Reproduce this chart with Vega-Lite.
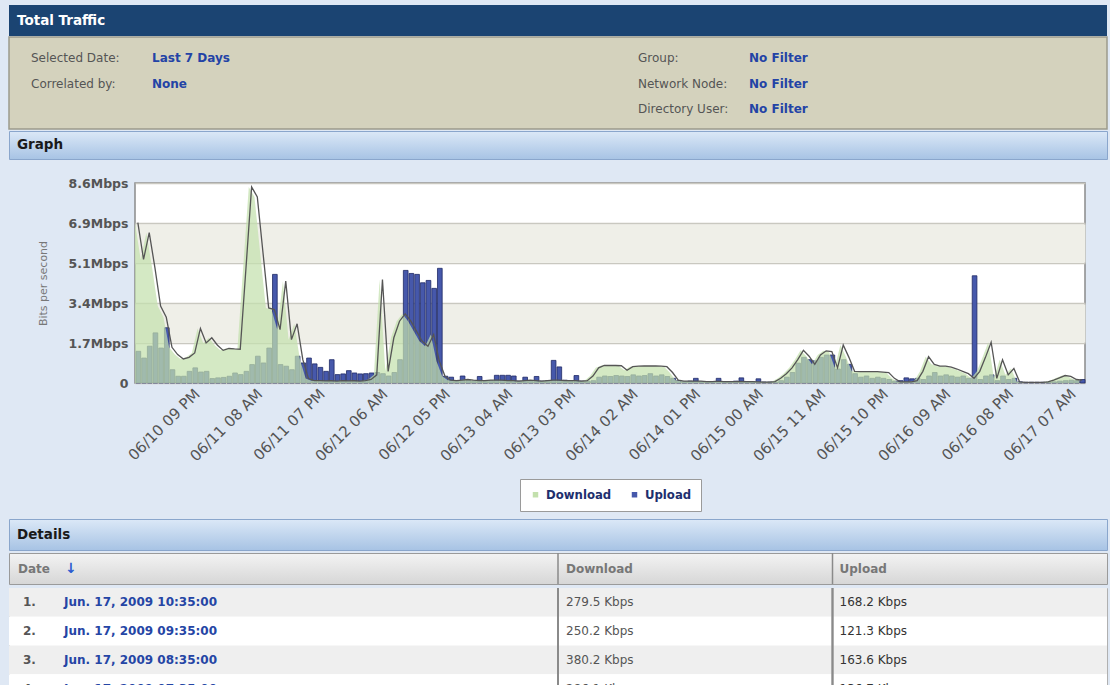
{
  "$schema": "https://vega.github.io/schema/vega-lite/v6.json",
  "background": "#dfe8f4",
  "padding": {"left": 8, "top": 5, "right": 4, "bottom": 0},
  "spacing": 0,
  "resolve": {"scale": {"color": "independent"}, "legend": {"color": "independent"}},
  "config": {"font": "DejaVu Sans", "view": {"stroke": null}, "legend": {"layout": {"bottom": {"anchor": "middle"}}}},
  "datasets": {
    "traffic": [
      {"t":"2009-06-10T11:00","down":6.88,"up":1.36},{"t":"2009-06-10T12:00","down":5.30,"up":1.07},{"t":"2009-06-10T13:00","down":6.45,"up":1.58},{"t":"2009-06-10T14:00","down":4.95,"up":2.15},{"t":"2009-06-10T15:00","down":3.30,"up":1.50},{"t":"2009-06-10T16:00","down":2.82,"up":2.37},{"t":"2009-06-10T17:00","down":1.53,"up":0.57},{"t":"2009-06-10T18:00","down":1.22,"up":0.29},{"t":"2009-06-10T19:00","down":1.03,"up":0.29},{"t":"2009-06-10T20:00","down":1.10,"up":0.50},{"t":"2009-06-10T21:00","down":1.29,"up":0.65},{"t":"2009-06-10T22:00","down":2.34,"up":0.47},{"t":"2009-06-10T23:00","down":1.72,"up":0.50},
      {"t":"2009-06-11T00:00","down":1.94,"up":0.19},{"t":"2009-06-11T01:00","down":1.62,"up":0.22},{"t":"2009-06-11T02:00","down":1.40,"up":0.24},{"t":"2009-06-11T03:00","down":1.48,"up":0.29},{"t":"2009-06-11T04:00","down":1.46,"up":0.43},{"t":"2009-06-11T05:00","down":1.45,"up":0.36},{"t":"2009-06-11T06:00","down":4.90,"up":0.50},{"t":"2009-06-11T07:00","down":8.41,"up":0.79},{"t":"2009-06-11T08:00","down":7.98,"up":1.15},{"t":"2009-06-11T09:00","down":5.59,"up":0.86},{"t":"2009-06-11T10:00","down":3.22,"up":1.50},{"t":"2009-06-11T11:00","down":3.15,"up":4.66},{"t":"2009-06-11T12:00","down":2.29,"up":0.79},{"t":"2009-06-11T13:00","down":4.37,"up":0.72},{"t":"2009-06-11T14:00","down":1.86,"up":0.57},{"t":"2009-06-11T15:00","down":2.54,"up":1.15},{"t":"2009-06-11T16:00","down":1.00,"up":0.86},{"t":"2009-06-11T17:00","down":0.19,"up":1.07},{"t":"2009-06-11T18:00","down":0.10,"up":0.82},{"t":"2009-06-11T19:00","down":0.10,"up":0.67},{"t":"2009-06-11T20:00","down":0.09,"up":0.50},{"t":"2009-06-11T21:00","down":0.10,"up":1.00},{"t":"2009-06-11T22:00","down":0.08,"up":0.36},{"t":"2009-06-11T23:00","down":0.10,"up":0.39},
      {"t":"2009-06-12T00:00","down":0.09,"up":0.53},{"t":"2009-06-12T01:00","down":0.10,"up":0.43},{"t":"2009-06-12T02:00","down":0.08,"up":0.39},{"t":"2009-06-12T03:00","down":0.10,"up":0.40},{"t":"2009-06-12T04:00","down":0.15,"up":0.43},{"t":"2009-06-12T05:00","down":0.35,"up":0.45},{"t":"2009-06-12T06:00","down":4.44,"up":0.40},{"t":"2009-06-12T07:00","down":0.50,"up":0.30},{"t":"2009-06-12T08:00","down":1.94,"up":0.45},{"t":"2009-06-12T09:00","down":2.65,"up":1.00},{"t":"2009-06-12T10:00","down":2.97,"up":4.83},{"t":"2009-06-12T11:00","down":2.65,"up":4.70},{"t":"2009-06-12T12:00","down":2.22,"up":4.66},{"t":"2009-06-12T13:00","down":1.79,"up":4.30},{"t":"2009-06-12T14:00","down":1.58,"up":4.40},{"t":"2009-06-12T15:00","down":2.08,"up":4.06},{"t":"2009-06-12T16:00","down":0.93,"up":4.92},{"t":"2009-06-12T17:00","down":0.29,"up":0.29},{"t":"2009-06-12T18:00","down":0.12,"up":0.25},{"t":"2009-06-12T19:00","down":0.10,"up":0.08},{"t":"2009-06-12T20:00","down":0.12,"up":0.30},{"t":"2009-06-12T21:00","down":0.15,"up":0.10},{"t":"2009-06-12T22:00","down":0.12,"up":0.08},{"t":"2009-06-12T23:00","down":0.10,"up":0.28},
      {"t":"2009-06-13T00:00","down":0.10,"up":0.08},{"t":"2009-06-13T01:00","down":0.12,"up":0.10},{"t":"2009-06-13T02:00","down":0.12,"up":0.33},{"t":"2009-06-13T03:00","down":0.12,"up":0.33},{"t":"2009-06-13T04:00","down":0.10,"up":0.33},{"t":"2009-06-13T05:00","down":0.10,"up":0.30},{"t":"2009-06-13T06:00","down":0.08,"up":0.08},{"t":"2009-06-13T07:00","down":0.10,"up":0.25},{"t":"2009-06-13T08:00","down":0.12,"up":0.08},{"t":"2009-06-13T09:00","down":0.10,"up":0.28},{"t":"2009-06-13T10:00","down":0.08,"up":0.08},{"t":"2009-06-13T11:00","down":0.10,"up":0.10},{"t":"2009-06-13T12:00","down":0.12,"up":0.97},{"t":"2009-06-13T13:00","down":0.12,"up":0.69},{"t":"2009-06-13T14:00","down":0.10,"up":0.12},{"t":"2009-06-13T15:00","down":0.10,"up":0.08},{"t":"2009-06-13T16:00","down":0.10,"up":0.32},{"t":"2009-06-13T17:00","down":0.08,"up":0.08},{"t":"2009-06-13T18:00","down":0.10,"up":0.08},{"t":"2009-06-13T19:00","down":0.30,"up":0.10},{"t":"2009-06-13T20:00","down":0.65,"up":0.25},{"t":"2009-06-13T21:00","down":0.75,"up":0.30},{"t":"2009-06-13T22:00","down":0.76,"up":0.28},{"t":"2009-06-13T23:00","down":0.75,"up":0.32},
      {"t":"2009-06-14T00:00","down":0.74,"up":0.30},{"t":"2009-06-14T01:00","down":0.55,"up":0.28},{"t":"2009-06-14T02:00","down":0.70,"up":0.35},{"t":"2009-06-14T03:00","down":0.72,"up":0.30},{"t":"2009-06-14T04:00","down":0.73,"up":0.32},{"t":"2009-06-14T05:00","down":0.73,"up":0.40},{"t":"2009-06-14T06:00","down":0.73,"up":0.30},{"t":"2009-06-14T07:00","down":0.72,"up":0.35},{"t":"2009-06-14T08:00","down":0.70,"up":0.28},{"t":"2009-06-14T09:00","down":0.45,"up":0.20},{"t":"2009-06-14T10:00","down":0.12,"up":0.10},{"t":"2009-06-14T11:00","down":0.08,"up":0.05},{"t":"2009-06-14T12:00","down":0.08,"up":0.08},{"t":"2009-06-14T13:00","down":0.08,"up":0.20},{"t":"2009-06-14T14:00","down":0.08,"up":0.05},{"t":"2009-06-14T15:00","down":0.06,"up":0.05},{"t":"2009-06-14T16:00","down":0.06,"up":0.06},{"t":"2009-06-14T17:00","down":0.08,"up":0.20},{"t":"2009-06-14T18:00","down":0.06,"up":0.05},{"t":"2009-06-14T19:00","down":0.06,"up":0.05},{"t":"2009-06-14T20:00","down":0.06,"up":0.08},{"t":"2009-06-14T21:00","down":0.07,"up":0.22},{"t":"2009-06-14T22:00","down":0.06,"up":0.05},{"t":"2009-06-14T23:00","down":0.06,"up":0.05},
      {"t":"2009-06-15T00:00","down":0.05,"up":0.18},{"t":"2009-06-15T01:00","down":0.04,"up":0.04},{"t":"2009-06-15T02:00","down":0.04,"up":0.04},{"t":"2009-06-15T03:00","down":0.06,"up":0.04},{"t":"2009-06-15T04:00","down":0.20,"up":0.10},{"t":"2009-06-15T05:00","down":0.40,"up":0.25},{"t":"2009-06-15T06:00","down":0.65,"up":0.45},{"t":"2009-06-15T07:00","down":1.00,"up":0.85},{"t":"2009-06-15T08:00","down":1.40,"up":1.10},{"t":"2009-06-15T09:00","down":1.15,"up":1.00},{"t":"2009-06-15T10:00","down":0.80,"up":0.95},{"t":"2009-06-15T11:00","down":1.20,"up":1.10},{"t":"2009-06-15T12:00","down":1.38,"up":1.20},{"t":"2009-06-15T13:00","down":1.35,"up":1.20},{"t":"2009-06-15T14:00","down":0.65,"up":0.60},{"t":"2009-06-15T15:00","down":1.63,"up":1.00},{"t":"2009-06-15T16:00","down":1.10,"up":0.80},{"t":"2009-06-15T17:00","down":0.50,"up":0.40},{"t":"2009-06-15T18:00","down":0.49,"up":0.25},{"t":"2009-06-15T19:00","down":0.49,"up":0.30},{"t":"2009-06-15T20:00","down":0.49,"up":0.20},{"t":"2009-06-15T21:00","down":0.49,"up":0.25},{"t":"2009-06-15T22:00","down":0.47,"up":0.20},{"t":"2009-06-15T23:00","down":0.45,"up":0.15},
      {"t":"2009-06-16T00:00","down":0.20,"up":0.08},{"t":"2009-06-16T01:00","down":0.05,"up":0.10},{"t":"2009-06-16T02:00","down":0.05,"up":0.22},{"t":"2009-06-16T03:00","down":0.05,"up":0.18},{"t":"2009-06-16T04:00","down":0.10,"up":0.20},{"t":"2009-06-16T05:00","down":0.50,"up":0.15},{"t":"2009-06-16T06:00","down":1.13,"up":0.30},{"t":"2009-06-16T07:00","down":0.80,"up":0.45},{"t":"2009-06-16T08:00","down":0.72,"up":0.30},{"t":"2009-06-16T09:00","down":0.72,"up":0.35},{"t":"2009-06-16T10:00","down":0.68,"up":0.30},{"t":"2009-06-16T11:00","down":0.60,"up":0.25},{"t":"2009-06-16T12:00","down":0.50,"up":0.30},{"t":"2009-06-16T13:00","down":0.40,"up":0.20},{"t":"2009-06-16T14:00","down":0.20,"up":4.60},{"t":"2009-06-16T15:00","down":0.50,"up":0.15},{"t":"2009-06-16T16:00","down":1.10,"up":0.30},{"t":"2009-06-16T17:00","down":1.75,"up":0.35},{"t":"2009-06-16T18:00","down":0.20,"up":0.10},{"t":"2009-06-16T19:00","down":1.00,"up":0.30},{"t":"2009-06-16T20:00","down":0.35,"up":0.15},{"t":"2009-06-16T21:00","down":0.62,"up":0.20},{"t":"2009-06-16T22:00","down":0.05,"up":0.05},{"t":"2009-06-16T23:00","down":0.03,"up":0.03},
      {"t":"2009-06-17T00:00","down":0.03,"up":0.03},{"t":"2009-06-17T01:00","down":0.03,"up":0.03},{"t":"2009-06-17T02:00","down":0.03,"up":0.03},{"t":"2009-06-17T03:00","down":0.05,"up":0.04},{"t":"2009-06-17T04:00","down":0.12,"up":0.05},{"t":"2009-06-17T05:00","down":0.22,"up":0.08},{"t":"2009-06-17T06:00","down":0.32,"up":0.10},{"t":"2009-06-17T07:00","down":0.28,"up":0.12},{"t":"2009-06-17T08:00","down":0.15,"up":0.10},{"t":"2009-06-17T09:00","down":0.12,"up":0.15}
    ],
    "filters": [
      {"col":"a","row":0,"key":"Selected Date:","val":"Last 7 Days"},
      {"col":"a","row":1,"key":"Correlated by:","val":"None"},
      {"col":"b","row":0,"key":"Group:","val":"No Filter"},
      {"col":"b","row":1,"key":"Network Node:","val":"No Filter"},
      {"col":"b","row":2,"key":"Directory User:","val":"No Filter"}
    ],
    "rows": [
      {"n":1,"num":"1.","date":"Jun. 17, 2009 10:35:00","down":"279.5 Kbps","up":"168.2 Kbps"},
      {"n":2,"num":"2.","date":"Jun. 17, 2009 09:35:00","down":"250.2 Kbps","up":"121.3 Kbps"},
      {"n":3,"num":"3.","date":"Jun. 17, 2009 08:35:00","down":"380.2 Kbps","up":"163.6 Kbps"},
      {"n":4,"num":"4.","date":"Jun. 17, 2009 07:35:00","down":"286.1 Kbps","up":"136.7 Kbps"}
    ],
    "headers": [{"label":"Total Traffic"}],
    "graphHeader": [{"label":"Graph"}],
    "detailsHeader": [{"label":"Details"}],
    "one": [{"id":1}]
  },
  "vconcat": [
    {
      "width": 1098, "height": 31,
      "view": {"fill": "#1b4472", "stroke": null},
      "data": {"name": "headers"},
      "mark": {"type": "text", "align": "left", "color": "#ffffff", "fontSize": 13.5, "fontWeight": "bold"},
      "encoding": {
        "x": {"field": "label", "type": "nominal", "axis": null, "scale": {"type": "point", "range": [8, 8], "padding": 0}},
        "text": {"field": "label"}
      }
    },
    {
      "width": 1098, "height": 92,
      "view": {"fill": "#d4d2bd", "stroke": "#9c9b8c", "strokeWidth": 1.5},
      "data": {"name": "filters"},
      "layer": [
        {
          "mark": {"type": "text", "align": "left", "color": "#555555", "fontSize": 12},
          "encoding": {
            "x": {"field": "col", "type": "nominal", "axis": null, "scale": {"type": "point", "range": [22, 629], "padding": 0}},
            "y": {"field": "row", "type": "ordinal", "axis": null, "scale": {"type": "point", "range": [21, 72], "padding": 0}},
            "text": {"field": "key"}
          }
        },
        {
          "mark": {"type": "text", "align": "left", "color": "#2343a6", "fontSize": 12, "fontWeight": "bold"},
          "encoding": {
            "x": {"field": "col", "type": "nominal", "axis": null, "scale": {"type": "point", "range": [143, 740], "padding": 0}},
            "y": {"field": "row", "type": "ordinal", "axis": null},
            "text": {"field": "val"}
          }
        }
      ],
      "resolve": {"scale": {"x": "independent"}}
    },
    {
      "width": 1098, "height": 28,
      "view": {"fill": {"gradient": "linear", "x1": 0, "y1": 0, "x2": 0, "y2": 1, "stops": [{"offset": 0, "color": "#dbe8f7"}, {"offset": 1, "color": "#a7c3e4"}]}, "stroke": "#8aa6cc"},
      "data": {"name": "graphHeader"},
      "mark": {"type": "text", "align": "left", "color": "#1a1a1a", "fontSize": 13.5, "fontWeight": "bold"},
      "encoding": {
        "x": {"field": "label", "type": "nominal", "scale": {"type": "point", "range": [8, 8], "padding": 0},
              "axis": {"labels": false, "ticks": false, "domain": false, "grid": false, "title": " ", "titleFontSize": 10, "titlePadding": 6}},
        "text": {"field": "label"}
      }
    },
    {
      "spacing": 0,
      "resolve": {"scale": {"color": "independent"}, "legend": {"color": "independent"}},
      "hconcat": [
        {
          "width": 27, "height": 200,
          "view": {"fill": null, "stroke": null},
          "data": {"values": []},
          "mark": {"type": "point"}
        },
        {
          "width": 950, "height": 200,
          "view": {"fill": "#ffffff", "stroke": "#8a8a8a", "strokeWidth": 1.5},
          "data": {"name": "traffic"},
          "encoding": {
            "x": {
              "field": "t", "timeUnit": "yearmonthdatehours", "type": "temporal", "title": null,
              "axis": {
                "values": [
                  {"year":2009,"month":6,"date":10,"hours":21},{"year":2009,"month":6,"date":11,"hours":8},{"year":2009,"month":6,"date":11,"hours":19},
                  {"year":2009,"month":6,"date":12,"hours":6},{"year":2009,"month":6,"date":12,"hours":17},{"year":2009,"month":6,"date":13,"hours":4},
                  {"year":2009,"month":6,"date":13,"hours":15},{"year":2009,"month":6,"date":14,"hours":2},{"year":2009,"month":6,"date":14,"hours":13},
                  {"year":2009,"month":6,"date":15,"hours":0},{"year":2009,"month":6,"date":15,"hours":11},{"year":2009,"month":6,"date":15,"hours":22},
                  {"year":2009,"month":6,"date":16,"hours":9},{"year":2009,"month":6,"date":16,"hours":20},{"year":2009,"month":6,"date":17,"hours":7}
                ],
                "tickCount": 20,
                "labelExpr": "timeFormat(datum.value, '%m/%d ') + (hours(datum.value) == 0 ? '00' : timeFormat(datum.value, '%I')) + timeFormat(datum.value, ' %p')",
                "labelAngle": -45, "labelFontSize": 15, "labelColor": "#555555", "labelPadding": 3,
                "ticks": false, "domain": false, "grid": false, "labelFlush": false, "labelOverlap": false
              }
            }
          },
          "layer": [
            {
              "mark": {"type": "bar", "timeUnitBandSize": 0.7, "stroke": "#1f2a66", "strokeWidth": 0.8},
              "encoding": {
                "y": {
                  "field": "up", "type": "quantitative", "title": "Bits per second",
                  "scale": {"domain": [0, 8.58], "nice": false},
                  "axis": {
                    "titleColor": "#777777", "titleFontSize": 11, "titleFontWeight": "normal", "titlePadding": 20,
                    "values": [0, 1.716, 2.574, 3.432, 5.148, 6.006, 6.864, 8.58],
                    "tickCount": 20,
                    "labelExpr": "datum.value == 0 ? '0' : (abs(datum.value - 2.574) < 0.01 || abs(datum.value - 6.006) < 0.01) ? '' : format(datum.value, '.1f') + 'Mbps'",
                    "labelFontSize": 12.5, "labelFontWeight": "bold", "labelColor": "#555555", "labelPadding": 7, "labelOverlap": false,
                    "ticks": false, "domain": false, "grid": true,
                    "gridColor": {"condition": {"test": "abs(datum.value - 2.574) < 0.01 || abs(datum.value - 6.006) < 0.01", "value": "#efefe8"}, "value": "#c9c8c0"},
                    "gridWidth": {"condition": {"test": "abs(datum.value - 2.574) < 0.01 || abs(datum.value - 6.006) < 0.01", "value": 38.5}, "value": 1.5}
                  }
                },
                "color": {
                  "datum": "Upload", "type": "nominal",
                  "scale": {"domain": ["Download", "Upload"], "range": ["#c3e0ad", "#4658ab"]},
                  "legend": {
                    "orient": "bottom", "direction": "horizontal", "title": null, "fillColor": "#ffffff", "strokeColor": "#9a9a9a",
                    "padding": 9, "offset": 15, "symbolType": "square", "symbolSize": 30, "symbolOpacity": 1, "symbolStrokeWidth": 0,
                    "labelFont": "DejaVu Sans Condensed", "labelFontWeight": "bold", "labelFontSize": 13, "labelColor": "#1e2f6e", "columnPadding": 16
                  }
                }
              }
            },
            {
              "mark": {"type": "area", "opacity": 0.72},
              "encoding": {
                "x": {"field": "t", "timeUnit": "yearmonthdatehours", "type": "temporal", "bandPosition": 0.5},
                "y": {"field": "down", "type": "quantitative", "axis": null},
                "color": {"datum": "Download", "type": "nominal"}
              }
            },
            {
              "mark": {"type": "line", "color": "#555555", "strokeWidth": 1.3},
              "encoding": {
                "x": {"field": "t", "timeUnit": "yearmonthdatehours", "type": "temporal", "bandPosition": 0.5},
                "y": {"field": "down", "type": "quantitative", "axis": null}
              }
            }
          ],
          "resolve": {"axis": {"y": "independent"}}
        }
      ]
    },
    {
      "width": 1098, "height": 31,
      "title": {"text": " ", "fontSize": 5, "offset": 0},
      "view": {"fill": {"gradient": "linear", "x1": 0, "y1": 0, "x2": 0, "y2": 1, "stops": [{"offset": 0, "color": "#dbe8f7"}, {"offset": 1, "color": "#a7c3e4"}]}, "stroke": "#8aa6cc"},
      "data": {"name": "detailsHeader"},
      "mark": {"type": "text", "align": "left", "color": "#1a1a1a", "fontSize": 13.5, "fontWeight": "bold"},
      "encoding": {
        "x": {"field": "label", "type": "nominal", "axis": null, "scale": {"type": "point", "range": [8, 8], "padding": 0}},
        "text": {"field": "label"}
      }
    },
    {
      "width": 1098, "height": 31,
      "view": {"fill": {"gradient": "linear", "x1": 0, "y1": 0, "x2": 0, "y2": 1, "stops": [{"offset": 0, "color": "#f3f3f3"}, {"offset": 1, "color": "#d6d6d6"}]}, "stroke": "#9a9a9a"},
      "data": {"name": "one"},
      "layer": [
        {"mark": {"type": "text", "align": "left", "dx": 9, "color": "#777777", "fontSize": 12, "fontWeight": "bold"},
         "encoding": {"x": {"datum": "c0", "type": "nominal", "bandPosition": 0, "axis": null, "scale": {"type": "band", "domain": ["c0", "c1", "c2", "c3"], "paddingInner": 0, "paddingOuter": 0}}, "text": {"value": "Date"}}},
        {"mark": {"type": "text", "align": "left", "dx": 56, "color": "#2a5bd0", "fontSize": 14, "fontWeight": "bold"},
         "encoding": {"x": {"datum": "c0", "type": "nominal", "bandPosition": 0}, "text": {"value": "↓"}}},
        {"mark": {"type": "text", "align": "left", "dx": 8, "color": "#777777", "fontSize": 12, "fontWeight": "bold"},
         "encoding": {"x": {"datum": "c2", "type": "nominal", "bandPosition": 0}, "text": {"value": "Download"}}},
        {"mark": {"type": "text", "align": "left", "dx": 7, "color": "#777777", "fontSize": 12, "fontWeight": "bold"},
         "encoding": {"x": {"datum": "c3", "type": "nominal", "bandPosition": 0}, "text": {"value": "Upload"}}},
        {"mark": {"type": "rule", "color": "#8a8a8a", "strokeWidth": 1.5},
         "encoding": {"x": {"datum": "c2", "type": "nominal", "bandPosition": 0}}},
        {"mark": {"type": "rule", "color": "#8a8a8a", "strokeWidth": 1.5},
         "encoding": {"x": {"datum": "c3", "type": "nominal", "bandPosition": 0}}}
      ]
    },
    {
      "width": 1098, "height": 115,
      "view": {"fill": "#ffffff", "stroke": "#b0b0b0"},
      "data": {"name": "rows"},
      "layer": [
        {"mark": {"type": "rect"},
         "encoding": {
           "y": {"field": "n", "type": "ordinal", "axis": null, "scale": {"type": "band", "paddingInner": 0, "paddingOuter": 0}},
           "fill": {"condition": {"test": "datum.n % 2 == 1", "value": "#efefef"}, "value": "#ffffff"}
         }},
        {"mark": {"type": "text", "align": "left", "dx": 14, "color": "#555555", "fontSize": 12, "fontWeight": "bold"},
         "encoding": {"x": {"datum": "c0", "type": "nominal", "bandPosition": 0, "axis": null, "scale": {"type": "band", "domain": ["c0", "c1", "c2", "c3"], "paddingInner": 0, "paddingOuter": 0}}, "y": {"field": "n", "type": "ordinal", "axis": null}, "text": {"field": "num"}}},
        {"mark": {"type": "text", "align": "left", "dx": 55, "color": "#2545a5", "fontSize": 12, "fontWeight": "bold"},
         "encoding": {"x": {"datum": "c0", "type": "nominal", "bandPosition": 0}, "y": {"field": "n", "type": "ordinal"}, "text": {"field": "date"}}},
        {"mark": {"type": "text", "align": "left", "dx": 8, "color": "#555555", "fontSize": 12},
         "encoding": {"x": {"datum": "c2", "type": "nominal", "bandPosition": 0}, "y": {"field": "n", "type": "ordinal"}, "text": {"field": "down"}}},
        {"mark": {"type": "text", "align": "left", "dx": 7, "color": "#333333", "fontSize": 12},
         "encoding": {"x": {"datum": "c3", "type": "nominal", "bandPosition": 0}, "y": {"field": "n", "type": "ordinal"}, "text": {"field": "up"}}},
        {"mark": {"type": "rule", "color": "#8a8a8a", "strokeWidth": 1.5},
         "encoding": {"x": {"datum": "c2", "type": "nominal", "bandPosition": 0}}},
        {"mark": {"type": "rule", "color": "#8a8a8a", "strokeWidth": 1.5},
         "encoding": {"x": {"datum": "c3", "type": "nominal", "bandPosition": 0}}}
      ]
    }
  ]
}
